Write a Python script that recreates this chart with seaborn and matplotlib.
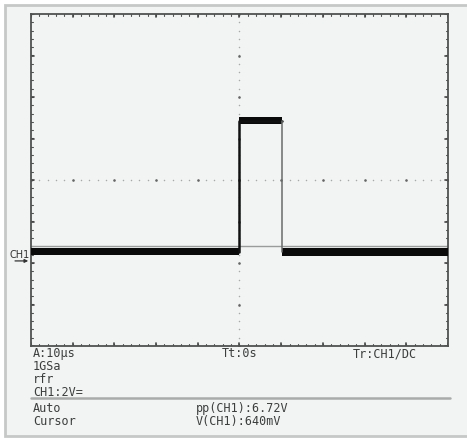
import numpy as np
import pandas as pd
import matplotlib
matplotlib.use('Agg')
import matplotlib.pyplot as plt
from matplotlib.patches import Rectangle
import seaborn as sns

sns.set_theme(style='white')
plt.rcParams['font.family'] = ['DejaVu Sans Mono', 'DejaVu Sans']

# Escala do osciloscópio: 10 us/div, 2 V/div (tela 10 x 8 divisões)
time_div = 10.0
volt_div = 2.0
n_hdiv, n_vdiv = 10, 8

# Traço CH1 (envelope do ruído), segmentos planos
seg_start = [-50.0, 0.0, 10.3]
seg_end = [0.0, 10.3, 50.0]
seg_hi = [-3.30, 3.02, -3.28]
seg_lo = [-3.62, 2.70, -3.64]

# Linha do traço (nível médio) com as bordas do pulso
trace_t = [-50.0, 0.0, 0.0, 10.3, 10.3, 50.0]
trace_v = [-3.46, -3.46, 2.86, 2.86, -3.46, -3.46]

cursor_v = -3.20
ch1_ground = -3.90

info_left = ['A:10\u00b5s', '1GSa', 'rfr', 'CH1:2V=']
info_mid = 'Tt:0s'
info_right = 'Tr:CH1/DC'
status_left = ['Auto', 'Cursor']
status_mid = ['pp(CH1):6.72V', 'V(CH1):640mV']

W, H = 467, 439
fig = plt.figure(figsize=(W / 100, H / 100), dpi=100, facecolor='white')
bg = '#f2f3f3'
fig.patches.append(Rectangle((5 / W, 1 - 437 / H), 470 / W, 431 / H, transform=fig.transFigure,
                             facecolor=bg, edgecolor='#c6c8c8', linewidth=2, zorder=-5))

ax = fig.add_axes([31 / W, 1 - 347 / H, 417 / W, 332 / H])
ax.set_facecolor(bg)
xmax = n_hdiv / 2 * time_div
ymax = n_vdiv / 2 * volt_div
ax.set_xlim(-xmax, xmax)
ax.set_ylim(-ymax, ymax)
ax.set_xticks([])
ax.set_yticks([])
for s in ax.spines.values():
    s.set_color('#505252')
    s.set_linewidth(1.3)

# Marcas de divisão nas bordas e linhas centrais pontilhadas
sub_x = np.arange(-xmax, xmax + 1e-9, time_div / 5)
sub_y = np.arange(-ymax, ymax + 1e-9, volt_div / 5)
maj_x = np.arange(-xmax, xmax + 1e-9, time_div)
maj_y = np.arange(-ymax, ymax + 1e-9, volt_div)
tx = 0.004 * 2 * xmax
ty = 0.005 * 2 * ymax
for x in sub_x:
    ax.plot([x, x], [ymax, ymax - ty], color='#555', lw=0.8)
    ax.plot([x, x], [-ymax, -ymax + ty], color='#555', lw=0.8)
for y in sub_y:
    ax.plot([-xmax, -xmax + tx], [y, y], color='#555', lw=0.8)
    ax.plot([xmax, xmax - tx], [y, y], color='#555', lw=0.8)
for x in maj_x:
    ax.plot([x, x], [ymax, ymax - 2 * ty], color='#444', lw=1.2)
    ax.plot([x, x], [-ymax, -ymax + 2 * ty], color='#444', lw=1.2)
for y in maj_y:
    ax.plot([-xmax, -xmax + 2 * tx], [y, y], color='#444', lw=1.2)
    ax.plot([xmax, xmax - 2 * tx], [y, y], color='#444', lw=1.2)

ax.scatter(sub_x, np.zeros_like(sub_x), s=1.2, color='#a8aaaa', zorder=1, linewidths=0)
ax.scatter(np.zeros_like(sub_y), sub_y, s=1.2, color='#a8aaaa', zorder=1, linewidths=0)
ax.scatter(maj_x, np.zeros_like(maj_x), s=3.5, color='#666', zorder=1, linewidths=0)
ax.scatter(np.zeros_like(maj_y), maj_y, s=3.5, color='#666', zorder=1, linewidths=0)

# Cursor horizontal
ax.axhline(cursor_v, color='#9a9c9c', lw=1.0, zorder=2)

# Traço
for t0, t1, hi, lo in zip(seg_start, seg_end, seg_hi, seg_lo):
    ax.fill_between([t0, t1], [lo, lo], [hi, hi], color='#0a0a0a', lw=0, zorder=3)
df = pd.DataFrame({'t': trace_t[1:4], 'v': trace_v[1:4]})
sns.lineplot(data=df, x='t', y='v', ax=ax, color='#111', lw=1.8, sort=False,
             estimator=None, zorder=4)
df2 = pd.DataFrame({'t': trace_t[3:5], 'v': trace_v[3:5]})
sns.lineplot(data=df2, x='t', y='v', ax=ax, color='#6a6c6c', lw=1.1, sort=False,
             estimator=None, zorder=4)
ax.set_xlabel('')
ax.set_ylabel('')

# Marcador CH1
ax.annotate('', xy=(-xmax, ch1_ground), xytext=(-xmax - 0.045 * 2 * xmax, ch1_ground),
            xycoords='data', annotation_clip=False,
            arrowprops=dict(arrowstyle='-|>', color='#333', lw=0.9, mutation_scale=5))
ax.text(-xmax - 0.004 * 2 * xmax, ch1_ground + 0.1, 'CH1', ha='right', va='bottom',
        fontsize=7, color='#333', family='DejaVu Sans', clip_on=False)

# Textos de status
tc = '#3c3e3e'
fs = 8.5
for i, s in enumerate(info_left):
    fig.text(33 / W, 1 - (354 + 12.7 * i) / H, s, fontsize=fs, color=tc, va='center', ha='left')
fig.text(240 / W, 1 - 354 / H, info_mid, fontsize=fs, color=tc, va='center', ha='center')
fig.text(385 / W, 1 - 354 / H, info_right, fontsize=fs, color=tc, va='center', ha='center')
fig.add_artist(plt.Line2D([31 / W, 450 / W], [1 - 399 / H, 1 - 399 / H], color='#a9abab', lw=1.8))
for i, s in enumerate(status_left):
    fig.text(33 / W, 1 - (409 + 12.5 * i) / H, s, fontsize=fs, color=tc, va='center', ha='left')
for i, s in enumerate(status_mid):
    fig.text(196 / W, 1 - (409 + 12.5 * i) / H, s, fontsize=fs, color=tc, va='center', ha='left')

fig.savefig('out.png', dpi=100, facecolor='white')
plt.close()
